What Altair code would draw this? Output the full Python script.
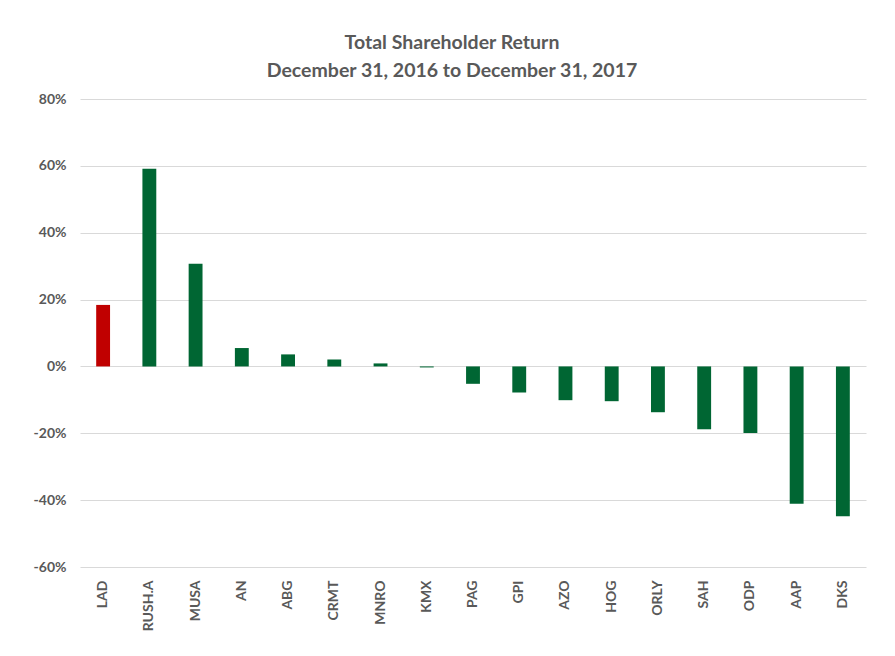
import altair as alt
import pandas as pd

tickers = ["LAD", "RUSH.A", "MUSA", "AN", "ABG", "CRMT", "MNRO", "KMX", "PAG",
           "GPI", "AZO", "HOG", "ORLY", "SAH", "ODP", "AAP", "DKS"]
returns = [0.184, 0.591, 0.307, 0.055, 0.036, 0.021, 0.009, -0.003, -0.052,
           -0.078, -0.101, -0.104, -0.137, -0.188, -0.199, -0.411, -0.448]
highlight = "LAD"

df = pd.DataFrame({"ticker": tickers, "ret": returns})

GRAY = "#595959"
FONT = "Lato"

chart = (
    alt.Chart(df)
    .mark_bar()
    .encode(
        x=alt.X(
            "ticker:N",
            sort=tickers,
            scale=alt.Scale(paddingInner=0.7, paddingOuter=0.35),
            axis=alt.Axis(
                title=None,
                labelAngle=-90,
                labelPadding=13,
                ticks=False,
                domain=False,
                grid=False,
                labelFont=FONT,
                labelFontSize=14,
                labelFontWeight="bold",
                labelColor=GRAY,
            ),
        ),
        y=alt.Y(
            "ret:Q",
            scale=alt.Scale(domain=[-0.6, 0.8], nice=False),
            axis=alt.Axis(
                title=None,
                values=[-0.6, -0.4, -0.2, 0, 0.2, 0.4, 0.6, 0.8],
                labelExpr="(datum.value < 0 ? '-' : '') + format(abs(datum.value), '.0%')",
                ticks=False,
                domain=False,
                labelPadding=14,
                labelFont=FONT,
                labelFontSize=14,
                labelFontWeight="bold",
                labelColor=GRAY,
                gridColor="#d9d9d9",
                gridWidth=1,
            ),
        ),
        color=alt.condition(
            alt.datum.ticker == highlight, alt.value("#C00000"), alt.value("#006633")
        ),
    )
    .properties(
        width=786,
        height=468,
        background="white",
        autosize=alt.AutoSizeParams(type="none"),
        padding={"left": 72, "top": 91, "right": 21, "bottom": 81},
        title=alt.TitleParams(
            text=["Total Shareholder Return", "December 31, 2016 to December 31, 2017"],
            font=FONT,
            fontSize=19.5,
            fontWeight="bold",
            color=GRAY,
            lineHeight=28,
            anchor="middle",
            dx=-21,
            offset=11,
        ),
    )
    .configure_view(strokeWidth=0)
)

chart.save("out.html", embed_options={"renderer": "svg", "actions": False})
